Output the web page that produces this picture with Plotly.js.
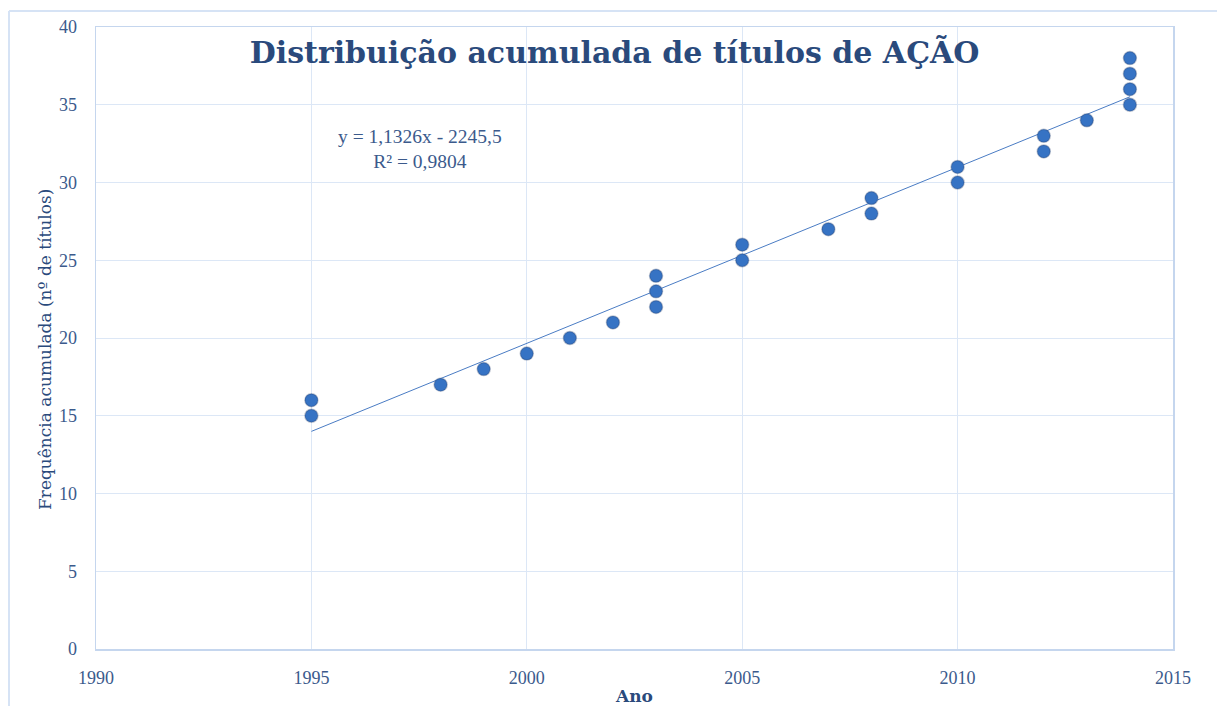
<!DOCTYPE html>
<html>
<head>
<meta charset="utf-8">
<script src="https://cdn.plot.ly/plotly-3.0.1.min.js"></script>
<style>html,body{margin:0;padding:0;background:#fff;}#chart{width:1217px;height:706px;}</style>
</head>
<body>
<div id="chart"></div>
<script>
const years = [1995,1995,1998,1999,2000,2001,2002,2003,2003,2003,2005,2005,2007,2008,2008,2010,2010,2012,2012,2013,2014,2014,2014,2014];
const cumFreq = [15,16,17,18,19,20,21,22,23,24,25,26,27,28,29,30,31,32,33,34,35,36,37,38];
const xTicks = [1990,1995,2000,2005,2010,2015];
const yTicks = [0,5,10,15,20,25,30,35,40];
const chartTitle = 'Distribuição acumulada de títulos de AÇÃO';
const xTitle = 'Ano';
const yTitle = 'Frequência acumulada (nº de títulos)';

// least squares trendline from the data
const n = years.length;
const mx = years.reduce((a,b)=>a+b,0)/n;
const my = cumFreq.reduce((a,b)=>a+b,0)/n;
let sxx=0, sxy=0, syy=0;
for(let i=0;i<n;i++){const dx=years[i]-mx, dy=cumFreq[i]-my; sxx+=dx*dx; sxy+=dx*dy; syy+=dy*dy;}
const slope = sxy/sxx, intercept = my - slope*mx, r2 = (sxy*sxy)/(sxx*syy);
const xMin = Math.min(...years), xMax = Math.max(...years);
const trendX = [xMin, xMax];
const trendY = trendX.map(v=>slope*v+intercept);
const fmt = (v,d)=>v.toFixed(d).replace('.',',');
const eqText = 'y = ' + fmt(slope,4) + 'x - ' + fmt(Math.abs(intercept),1) + '<br>R² = ' + fmt(r2,4);

const serif = 'Liberation Serif, DejaVu Serif, serif';
const wide = 'DejaVu Serif, serif';
const tickColor = '#3b5a8c';
const titleColor = '#2a4a7c';
const gridColor = '#dce7f6';
const frameColor = '#c5d6ee';

const traces = [
  {x: trendX, y: trendY, mode:'lines', line:{color:'#4a7cc4', width:1}, hoverinfo:'skip'},
  {x: years, y: cumFreq, mode:'markers', marker:{color:'#3673c4', size:13, line:{color:'rgba(40,60,100,0.3)', width:1.5}}}
];

const layout = {
  width:1217, height:706,
  margin:{l:96, r:44, t:27, b:57},
  paper_bgcolor:'#fff', plot_bgcolor:'#fff',
  showlegend:false,
  font:{family:serif, color:tickColor, size:18},
  xaxis:{range:[1990,2015], tickvals:xTicks, ticktext:xTicks.map(String), showgrid:true, gridcolor:gridColor, gridwidth:1,
         zeroline:false, showline:true, linecolor:frameColor, linewidth:1.5, mirror:true, ticks:'', ticklen:0,
         ticklabelstandoff:12,
         tickfont:{family:serif, size:18, color:tickColor},
         title:{text:'<b>'+xTitle+'</b>', font:{family:wide, size:17, color:titleColor}, standoff:3}},
  yaxis:{range:[0,40], tickvals:yTicks, ticktext:yTicks.map(String), showgrid:true, gridcolor:gridColor, gridwidth:1,
         zeroline:false, showline:true, linecolor:frameColor, linewidth:1.5, mirror:true, ticks:'', ticklen:0,
         ticklabelstandoff:14,
         tickfont:{family:serif, size:18, color:tickColor}},
  title:{text:'<b>'+chartTitle+'</b>', font:{family:wide, size:30, color:titleColor}, x:0.505, xanchor:'center', y:0.926, yanchor:'middle'},
  annotations:[
    {xref:'x', yref:'y', x:1997.52, y:32.15, text:eqText, showarrow:false, align:'center',
     font:{family:serif, size:19.5, color:tickColor}},
    {xref:'paper', yref:'paper', x:(45-96)/1077, y:(649-350)/622, text:yTitle, textangle:-90, showarrow:false,
     xanchor:'center', yanchor:'middle', font:{family:wide, size:17, color:titleColor}}
  ],
  shapes:[
    {type:'line', xref:'paper', yref:'paper', x0:(9-96)/1077, x1:(1217-96)/1077, y0:(649-11)/622, y1:(649-11)/622, line:{color:'#d6e3f5', width:2}},
    {type:'line', xref:'paper', yref:'paper', x0:(9-96)/1077, x1:(9-96)/1077, y0:(649-11)/622, y1:(649-720)/622, line:{color:'#d6e3f5', width:2}}
  ]
};
Plotly.newPlot('chart', traces, layout, {displayModeBar:false, staticPlot:true});
</script>
</body>
</html>
